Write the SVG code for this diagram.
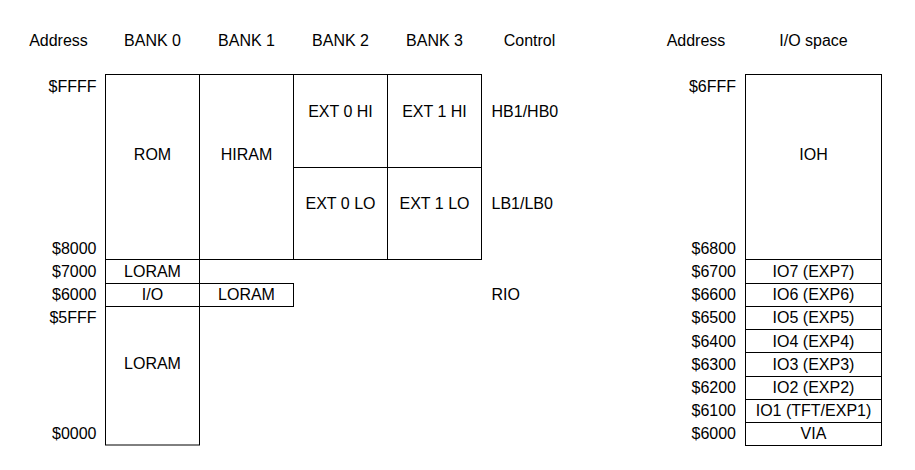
<svg xmlns="http://www.w3.org/2000/svg" width="915" height="470" viewBox="0 0 915 470">
<style>
text{font-family:"Liberation Sans",Arial,sans-serif;font-size:16px;fill:#000}
.c{text-anchor:middle}
.r{text-anchor:end}
rect{fill:#fff;stroke:#000;stroke-width:1}
</style>
<rect x="0" y="0" width="915" height="470" style="stroke:none"/>
<g id="headers">
<text class="c" x="58.5" y="46">Address</text>
<text class="c" x="152.5" y="46">BANK 0</text>
<text class="c" x="246.5" y="46">BANK 1</text>
<text class="c" x="340.5" y="46">BANK 2</text>
<text class="c" x="434.5" y="46">BANK 3</text>
<text class="c" x="529.5" y="46">Control</text>
<text class="c" x="696" y="46">Address</text>
<text class="c" x="813.5" y="46">I/O space</text>
</g>
<g id="addresses-left">
<text class="r" x="96.5" y="92">$FFFF</text>
<text class="r" x="96.5" y="254">$8000</text>
<text class="r" x="96.5" y="277">$7000</text>
<text class="r" x="96.5" y="300">$6000</text>
<text class="r" x="96.5" y="323">$5FFF</text>
<text class="r" x="96.5" y="439">$0000</text>
</g>
<g id="control">
<text x="491.5" y="116.5">HB1/HB0</text>
<text x="491.5" y="209">LB1/LB0</text>
<text x="491.5" y="300">RIO</text>
</g>
<g id="rom"><rect x="105.5" y="74.5" width="94" height="185"/><text class="c" x="152.5" y="160">ROM</text></g>
<g id="hiram"><rect x="199.5" y="74.5" width="94" height="185"/><text class="c" x="246.5" y="160">HIRAM</text></g>
<g id="ext0hi"><rect x="293.5" y="74.5" width="94" height="93"/><text class="c" x="340.5" y="116.5">EXT 0 HI</text></g>
<g id="ext1hi"><rect x="387.5" y="74.5" width="94" height="93"/><text class="c" x="434.5" y="116.5">EXT 1 HI</text></g>
<g id="ext0lo"><rect x="293.5" y="167.5" width="94" height="92"/><text class="c" x="340.5" y="209">EXT 0 LO</text></g>
<g id="ext1lo"><rect x="387.5" y="167.5" width="94" height="92"/><text class="c" x="434.5" y="209">EXT 1 LO</text></g>
<g id="loram7"><rect x="105.5" y="259.5" width="94" height="24"/><text class="c" x="152.5" y="277">LORAM</text></g>
<g id="io"><rect x="105.5" y="283.5" width="94" height="23"/><text class="c" x="152.5" y="300">I/O</text></g>
<g id="loram6"><rect x="199.5" y="283.5" width="94" height="23"/><text class="c" x="246.5" y="300">LORAM</text></g>
<g id="loram0"><rect x="105.5" y="306.5" width="94" height="138.5"/><text class="c" x="152.5" y="369">LORAM</text></g>
<g id="addresses-right">
<text class="r" x="736" y="92">$6FFF</text>
<text class="r" x="736" y="254">$6800</text>
<text class="r" x="736" y="277">$6700</text>
<text class="r" x="736" y="300">$6600</text>
<text class="r" x="736" y="323">$6500</text>
<text class="r" x="736" y="346.5">$6400</text>
<text class="r" x="736" y="369.5">$6300</text>
<text class="r" x="736" y="393">$6200</text>
<text class="r" x="736" y="416">$6100</text>
<text class="r" x="736" y="439">$6000</text>
</g>
<g id="ioh"><rect x="745.5" y="74.5" width="136" height="185"/><text class="c" x="813.5" y="160">IOH</text></g>
<g id="io7"><rect x="745.5" y="259.5" width="136" height="24"/><text class="c" x="813.5" y="277">IO7 (EXP7)</text></g>
<g id="io6"><rect x="745.5" y="283.5" width="136" height="23"/><text class="c" x="813.5" y="300">IO6 (EXP6)</text></g>
<g id="io5"><rect x="745.5" y="306.5" width="136" height="23"/><text class="c" x="813.5" y="323">IO5 (EXP5)</text></g>
<g id="io4"><rect x="745.5" y="329.5" width="136" height="23"/><text class="c" x="813.5" y="346.5">IO4 (EXP4)</text></g>
<g id="io3"><rect x="745.5" y="352.5" width="136" height="24"/><text class="c" x="813.5" y="369.5">IO3 (EXP3)</text></g>
<g id="io2"><rect x="745.5" y="376.5" width="136" height="23"/><text class="c" x="813.5" y="393">IO2 (EXP2)</text></g>
<g id="io1"><rect x="745.5" y="399.5" width="136" height="23"/><text class="c" x="813.5" y="416">IO1 (TFT/EXP1)</text></g>
<g id="via"><rect x="745.5" y="422.5" width="136" height="23"/><text class="c" x="813.5" y="439">VIA</text></g>
<g id="connectors"/>
</svg>
